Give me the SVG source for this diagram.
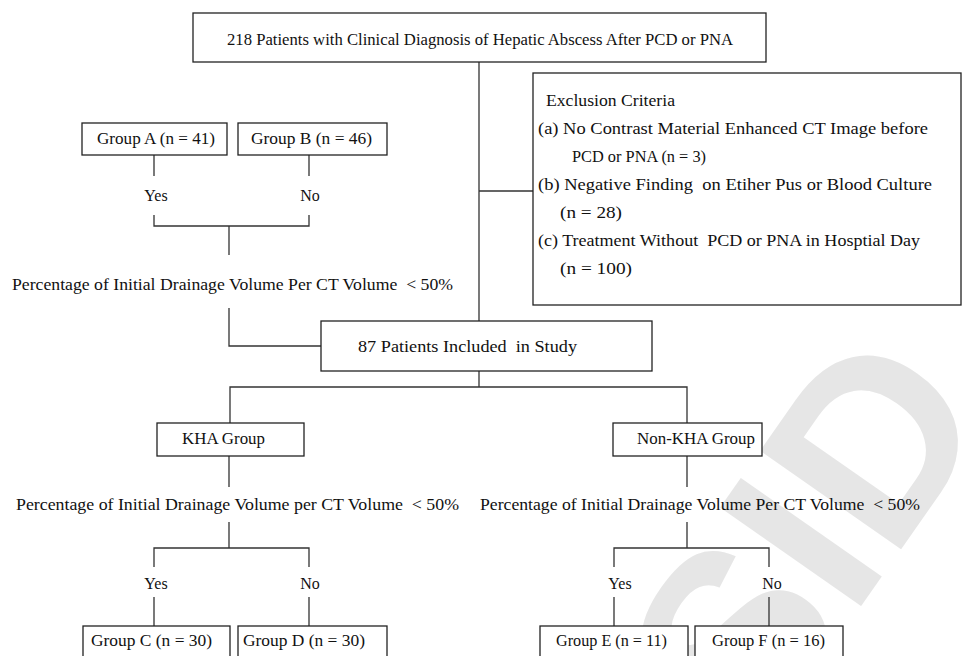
<svg xmlns="http://www.w3.org/2000/svg" width="964" height="656" viewBox="0 0 964 656">
<style>
  .box { fill: #fff; stroke: #222; stroke-width: 1.3; }
  .ln { fill: none; stroke: #333; stroke-width: 1.3; }
  text { font-family: "Liberation Serif", "Times New Roman", serif; font-size: 17px; fill: #111; }
  .c { text-anchor: middle; font-size: 16px; }
  .wm { font-family: "Liberation Sans", Arial, sans-serif; font-weight: bold; font-size: 250px; fill: #e6e6e6; }
</style>
<rect x="0" y="0" width="964" height="656" fill="#fff"/>
<g id="watermark">
  <text class="wm" x="0" y="0" text-anchor="end" transform="translate(995,415) rotate(-55)">Archive of SID</text>
</g>
<g id="connectors">
  <path class="ln" d="M479,62 V321 M479,191 H533"/>
  <path class="ln" d="M154,155 V176 M309,155 V176 M154,215 V226 H309 V215 M229,226 V255"/>
  <path class="ln" d="M229,308 V346 H321"/>
  <path class="ln" d="M479,371 V387 M230,423 V387 H687 V423"/>
  <path class="ln" d="M229,456 V487 M229,522 V548 M154,567 V548 H309 V567 M154,597 V626 M309,597 V626"/>
  <path class="ln" d="M687,456 V487 M687,522 V548 M614,567 V548 H769 V567 M614,597 V626 M769,597 V626"/>
</g>
<g id="top">
  <rect class="box" x="193" y="13" width="573" height="49"/>
  <text x="227" y="45" textLength="506" lengthAdjust="spacingAndGlyphs">218 Patients with Clinical Diagnosis of Hepatic Abscess After PCD or PNA</text>
</g>
<g id="exclusion">
  <rect class="box" x="533" y="73" width="428" height="232"/>
  <text x="546" y="106" textLength="129" lengthAdjust="spacingAndGlyphs">Exclusion Criteria</text>
  <text x="538" y="134" textLength="390" lengthAdjust="spacingAndGlyphs">(a) No Contrast Material Enhanced CT Image before</text>
  <text x="572" y="162" textLength="134" lengthAdjust="spacingAndGlyphs">PCD or PNA (n = 3)</text>
  <text x="538" y="190" textLength="394" lengthAdjust="spacingAndGlyphs" xml:space="preserve">(b) Negative Finding  on Etiher Pus or Blood Culture</text>
  <text x="560" y="218" textLength="62" lengthAdjust="spacingAndGlyphs">(n = 28)</text>
  <text x="538" y="246" textLength="382" lengthAdjust="spacingAndGlyphs" xml:space="preserve">(c) Treatment Without  PCD or PNA in Hosptial Day</text>
  <text x="560" y="274" textLength="72" lengthAdjust="spacingAndGlyphs">(n = 100)</text>
</g>
<g id="groupA">
  <rect class="box" x="82" y="123" width="145" height="32"/>
  <text x="97" y="144" textLength="118" lengthAdjust="spacingAndGlyphs">Group A (n = 41)</text>
</g>
<g id="groupB">
  <rect class="box" x="238" y="123" width="149" height="32"/>
  <text x="251" y="144" textLength="121" lengthAdjust="spacingAndGlyphs">Group B (n = 46)</text>
</g>
<g id="labels-top">
  <text class="c" x="156" y="201">Yes</text>
  <text class="c" x="310" y="201">No</text>
  <text x="12" y="290" textLength="441" lengthAdjust="spacingAndGlyphs" xml:space="preserve">Percentage of Initial Drainage Volume Per CT Volume  &lt; 50%</text>
</g>
<g id="included">
  <rect class="box" x="321" y="321" width="331" height="50"/>
  <text x="358" y="352" textLength="219" lengthAdjust="spacingAndGlyphs" xml:space="preserve">87 Patients Included  in Study</text>
</g>
<g id="kha">
  <rect class="box" x="157" y="423" width="147" height="33"/>
  <text x="182" y="444" textLength="83" lengthAdjust="spacingAndGlyphs">KHA Group</text>
</g>
<g id="nonkha">
  <rect class="box" x="613" y="423" width="149" height="33"/>
  <text x="637" y="444" textLength="118" lengthAdjust="spacingAndGlyphs">Non-KHA Group</text>
</g>
<g id="labels-bottom">
  <text x="16" y="510" textLength="443" lengthAdjust="spacingAndGlyphs" xml:space="preserve">Percentage of Initial Drainage Volume per CT Volume  &lt; 50%</text>
  <text x="480" y="510" textLength="440" lengthAdjust="spacingAndGlyphs" xml:space="preserve">Percentage of Initial Drainage Volume Per CT Volume  &lt; 50%</text>
  <text class="c" x="156" y="589">Yes</text>
  <text class="c" x="310" y="589">No</text>
  <text class="c" x="620" y="589">Yes</text>
  <text class="c" x="772" y="589">No</text>
</g>
<g id="groupC">
  <rect class="box" x="83" y="626" width="147" height="50"/>
  <text x="91" y="646" textLength="121" lengthAdjust="spacingAndGlyphs">Group C (n = 30)</text>
</g>
<g id="groupD">
  <rect class="box" x="238" y="626" width="149" height="50"/>
  <text x="243" y="646" textLength="122" lengthAdjust="spacingAndGlyphs">Group D (n = 30)</text>
</g>
<g id="groupE">
  <rect class="box" x="540" y="626" width="148" height="50"/>
  <text x="556" y="646" textLength="111" lengthAdjust="spacingAndGlyphs">Group E (n = 11)</text>
</g>
<g id="groupF">
  <rect class="box" x="695" y="626" width="148" height="50"/>
  <text x="712" y="646" textLength="113" lengthAdjust="spacingAndGlyphs">Group F (n = 16)</text>
</g>
</svg>
